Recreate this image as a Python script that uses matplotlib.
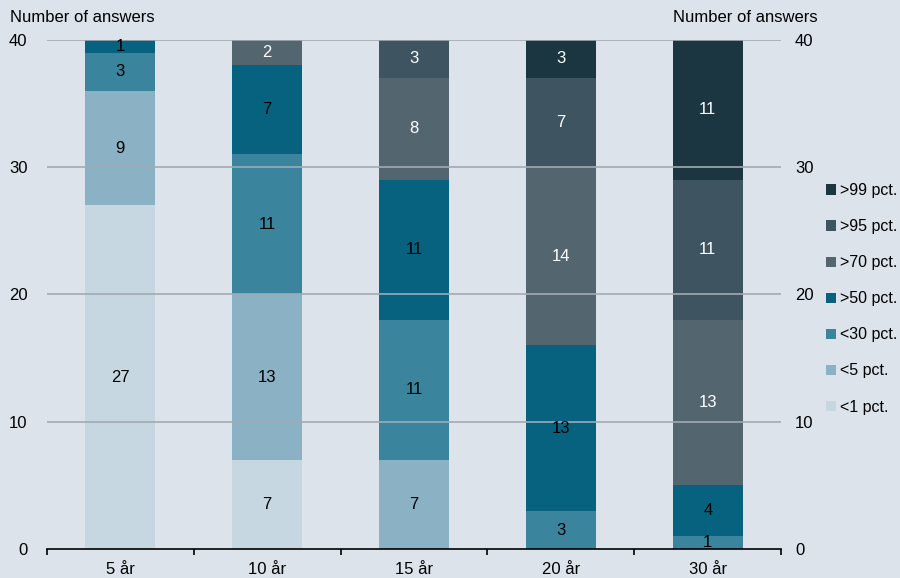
import matplotlib
matplotlib.use("Agg")
import matplotlib.pyplot as plt
import numpy as np

categories = ["5 år", "10 år", "15 år", "20 år", "30 år"]
series = ["<1 pct.", "<5 pct.", "<30 pct.", ">50 pct.", ">70 pct.", ">95 pct.", ">99 pct."]
lt1 = [27, 7, 0, 0, 0]
lt5 = [9, 13, 7, 0, 0]
lt30 = [3, 11, 11, 3, 1]
gt50 = [1, 7, 11, 13, 4]
gt70 = [0, 2, 8, 14, 13]
gt95 = [0, 0, 3, 7, 11]
gt99 = [0, 0, 0, 3, 11]
values = [lt1, lt5, lt30, gt50, gt70, gt95, gt99]

colors = ["#c6d7e1", "#8ab1c4", "#3b849d", "#07627f", "#53666f", "#3f5461", "#1b3541"]
text_colors = ["black", "black", "black", "black", "white", "white", "white"]
bg = "#dce3eb"
yticks = [0, 10, 20, 30, 40]

plt.rcParams["font.family"] = ["Liberation Sans", "DejaVu Sans"]
plt.rcParams["font.size"] = 12

fig = plt.figure(figsize=(9, 5.78), dpi=100, facecolor=bg)
ax = fig.add_axes([0.052, 0.050, 0.816, 0.881], facecolor=bg)

x = np.arange(len(categories))
bottom = np.zeros(len(categories))
handles = []
for vals, name, col, tc in zip(values, series, colors, text_colors):
    vals = np.array(vals)
    bars = ax.bar(x, vals, bottom=bottom, width=0.48, color=col, label=name, zorder=2)
    handles.append(bars)
    for xi, v, b in zip(x, vals, bottom):
        if v > 0:
            ax.text(xi, b + v / 2, str(v), ha="center", va="center", color=tc,
                    fontsize=12, zorder=4)
    bottom += vals

ax.set_xlim(-0.5, len(categories) - 0.5)
ax.set_ylim(0, 40)
ax.set_yticks(yticks)
for y in yticks[1:]:
    ax.axhline(y, color="#a3aab1", lw=1.2, zorder=3)

ax.set_xticks(x)
ax.set_xticklabels(categories)
ax.set_xticks(np.arange(len(categories) + 1) - 0.5, minor=True)
ax.tick_params(axis="x", which="major", length=0, pad=9)
ax.tick_params(axis="x", which="minor", length=4, width=1.2, direction="out")
ax.tick_params(axis="y", length=0, pad=14)
for s in ["top", "left", "right"]:
    ax.spines[s].set_visible(False)
ax.spines["bottom"].set_linewidth(1.2)
ax.spines["bottom"].set_zorder(5)

# right-hand axis labels
ax2 = ax.twinx()
ax2.set_ylim(0, 40)
ax2.set_yticks(yticks)
ax2.tick_params(axis="y", length=0, pad=10)
for s in ax2.spines.values():
    s.set_visible(False)

fig.text(10 / 900, 1 - 17 / 578, "Number of answers", ha="left", va="center", fontsize=12)
fig.text(818 / 900, 1 - 17 / 578, "Number of answers", ha="right", va="center", fontsize=12)

leg = fig.legend(handles[::-1], series[::-1], loc="center left",
                 bbox_to_anchor=(0.918, 0.483), frameon=False, fontsize=11.5,
                 handlelength=0.6, handleheight=0.6, handletextpad=0.25,
                 labelspacing=1.32, borderaxespad=0, borderpad=0)

fig.savefig("out.png", dpi=100, facecolor=bg)
